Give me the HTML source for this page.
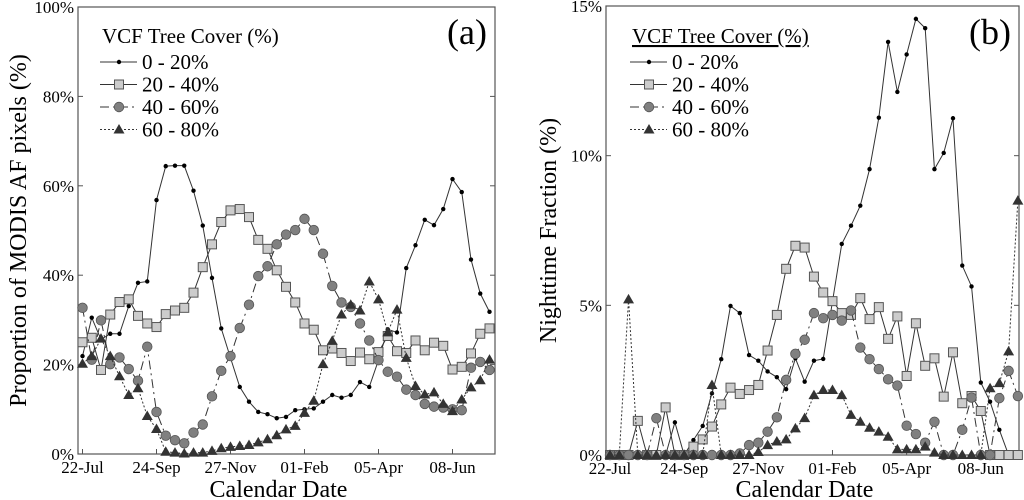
<!DOCTYPE html>
<html><head><meta charset="utf-8">
<style>
html,body{margin:0;padding:0;background:#fff;}
svg{display:block;font-family:"Liberation Serif","Times New Roman",serif;}
svg text{font-family:"Liberation Serif","Times New Roman",serif;}
</style></head>
<body>
<svg id="chart" width="1024" height="500" viewBox="0 0 1024 500" xmlns="http://www.w3.org/2000/svg"></svg>
<script>
const dateLabels = ["22-Jul","24-Sep","27-Nov","01-Feb","05-Apr","08-Jun"];
const seriesNames = ["0 - 20%","20 - 40%","40 - 60%","60 - 80%"];
const yTicksA = [0,20,40,60,80,100];
const yTicksB = [0,5,10,15];
// Panel (a): proportion of MODIS AF pixels (%)
const a020 = [21.9,30.5,25.6,26.9,26.9,33.1,38.3,38.6,56.8,64.4,64.5,64.5,58.9,51.1,39.4,28.1,21.5,15.0,11.7,9.4,8.9,8.0,8.3,9.8,10.0,10.2,11.7,13.2,12.6,13.2,16.1,15.0,21.0,27.9,27.2,41.6,46.7,52.4,51.2,54.8,61.5,58.6,43.5,35.9,31.8];
const a2040 = [25.0,26.0,18.8,31.2,34.0,34.6,30.9,29.2,28.4,31.3,32.1,32.7,36.1,41.8,46.9,51.9,54.5,54.8,53.0,47.9,45.9,41.1,37.4,33.9,29.2,27.8,23.2,23.6,22.6,20.8,22.7,21.2,22.8,26.4,23.0,22.6,25.4,23.2,24.9,24.2,18.9,19.5,22.5,26.9,28.1];
const a4060 = [32.7,21.1,29.9,20.1,21.6,19.0,16.4,24.0,9.4,4.1,3.1,2.4,4.8,6.6,12.9,18.6,21.9,28.2,33.4,39.8,42.0,46.9,49.1,50.1,52.6,50.1,44.8,37.6,33.9,32.9,29.2,25.4,21.0,18.4,17.3,14.4,13.2,11.2,10.6,10.4,10.0,9.8,19.3,20.6,18.8];
const a6080 = [20.2,21.9,25.8,21.9,17.4,13.2,14.7,8.5,5.6,0.5,0.3,0.1,0.3,0.3,0.7,1.3,1.6,1.8,2.0,2.6,3.3,4.2,5.5,6.3,9.2,11.9,20.1,25.3,31.2,33.4,32.1,38.6,34.6,27.2,32.3,21.5,15.2,13.3,13.8,11.2,9.6,12.2,14.9,16.5,21.1];
// Panel (b): nighttime fraction (%)
const b020 = [0,0,0,0,0,0,0,1.09,0,0.5,0.97,2.06,3.2,4.98,4.74,3.34,3.15,2.79,2.6,2.2,3.23,2.45,3.15,3.21,5.13,7.05,7.66,8.33,9.55,11.27,13.8,12.13,13.38,14.57,14.26,9.55,10.09,11.25,6.33,5.63,2.42,1.78,0.84,0,0];
const b2040 = [0,0,0,1.14,0,0,1.59,0,0,0.28,0.52,0.95,1.69,2.25,2.04,2.17,2.34,3.49,4.68,6.22,6.99,6.93,5.96,5.43,5.14,4.74,4.68,5.24,4.54,4.94,3.88,4.63,2.64,4.4,2.98,3.23,1.95,3.43,1.73,1.97,1.47,0,0,0,0];
const b4060 = [0,0,0,0,0,1.23,0,0,0,0,0,0,0,0,0.05,0.33,0.41,0.78,1.26,2.51,3.38,3.85,4.74,4.57,4.68,4.49,4.83,3.59,3.2,2.87,2.53,2.32,0.98,0.7,0.41,1.11,0,0,0.84,1.92,0,0,1.9,2.81,1.97];
const b6080 = [0,0,5.2,0,0,0,0,0,0,0,0,2.34,0,0,0,0,0.1,0.33,0.45,0.52,0.89,1.23,2.0,2.17,2.17,2.0,1.34,1.11,0.91,0.78,0.61,0.19,0.19,0.19,0.28,0.08,0,0,0,0,0,2.23,2.4,3.46,8.5];

const NS="http://www.w3.org/2000/svg";
const svg=document.getElementById('chart');
function mk(tag,attrs,parent){const e=document.createElementNS(NS,tag);for(const k in attrs)e.setAttribute(k,attrs[k]);if(tag==='text'){e.style.fontFamily='"Liberation Serif", serif';}(parent||svg).appendChild(e);return e;}
const styles=[
 {dash:"",marker:"dot",fill:"#000"},
 {dash:"",marker:"square",fill:"#ccc"},
 {dash:"9,4,2,4",marker:"circle",fill:"#808080"},
 {dash:"2,2",marker:"tri",fill:"#333"}
];
function marker(g,type,x,y,fill){
  let m;
  if(type==="dot") m=mk('circle',{cx:x,cy:y,r:2.2,fill:"#000"},g);
  else if(type==="square") m=mk('rect',{x:x-4.5,y:y-4.5,width:9,height:9,fill:fill,stroke:"#555","stroke-width":1},g);
  else if(type==="circle") m=mk('circle',{cx:x,cy:y,r:4.8,fill:fill,stroke:"#555","stroke-width":0.8},g);
  else m=mk('polygon',{points:`${x},${y-5.5} ${x-5.5},${y+4} ${x+5.5},${y+4}`,fill:fill},g);
  return m;
}
function panel(cfg){
  const g=mk('g',{});
  
  
  const {L,R,T,B,x0,dx,ymax}=cfg;
  const xs=i=>x0+i*dx;
  const ys=v=>B-(v/ymax)*(B-T);
  const fr=mk('rect',{x:L,y:T,width:R-L,height:B-T,fill:"none",stroke:"#555","stroke-width":1.2},g);
  
  
  cfg.yticks.forEach(v=>{
    const y=ys(v);
    mk('line',{x1:L,y1:y,x2:L+5,y2:y,stroke:"#555"},g);
    mk('line',{x1:R,y1:y,x2:R-5,y2:y,stroke:"#555"},g);
    const t=mk('text',{x:L-4,y:y+6,"font-size":17,"text-anchor":"end",fill:"#000"},g);
    t.textContent=v+"%";
    
    
  });
  dateLabels.forEach((lab,k)=>{
    const x=xs(k*8);
    mk('line',{x1:x,y1:B,x2:x,y2:B-5,stroke:"#555"},g);
    const t=mk('text',{x:x,y:B+19,"font-size":17,"text-anchor":"middle",fill:"#000"},g);
    t.textContent=lab;
    
    
  });
  const xt=mk('text',{x:(L+R)/2-8,y:497,"font-size":24,"text-anchor":"middle"},g);
  xt.textContent="Calendar Date";
  
  
  const yt=mk('text',{x:0,y:0,"font-size":24,"text-anchor":"middle",transform:`translate(${cfg.ytx},${(T+B)/2}) rotate(-90)`},g);
  yt.textContent=cfg.ytitle;
  
  
  const pl=mk('text',{x:R-8,y:44,"font-size":36,"text-anchor":"end"},g);
  pl.textContent=cfg.label;
  
  
  cfg.series.forEach((data,si)=>{
    const st=styles[si];
    const sg=mk('g',{},g);
    
    
    const pts=data.map((v,i)=>xs(i)+","+ys(v)).join(" ");
    const ln=mk('polyline',{points:pts,fill:"none",stroke:"#333","stroke-width":1,"stroke-dasharray":st.dash},sg);
    
    
    data.forEach((v,i)=>{
      const m=marker(sg,st.marker,xs(i),ys(v),st.fill);
      
      
    });
  });
  const lg=mk('g',{},g);
  
  
  const lt=mk('text',{x:cfg.lx+2,y:43,"font-size":21,"text-decoration":cfg.underline?"underline":"none"},lg);
  lt.textContent="VCF Tree Cover (%)";
  
  
  seriesNames.forEach((n,si)=>{
    const y=62+si*22.5;
    const st=styles[si];
    const e=mk('g',{},lg);
    
    
    mk('line',{x1:cfg.lx,y1:y,x2:cfg.lx+37,y2:y,stroke:"#333","stroke-dasharray":st.dash},e);
    marker(e,st.marker,cfg.lx+19,y,st.fill);
    const t=mk('text',{x:cfg.lx+42,y:y+7,"font-size":21},e);
    t.textContent=n;
  });
}
panel({name:'panel-a',L:78,R:495,T:7,B:454,x0:82.5,dx:9.25,ymax:100,yticks:yTicksA,
  series:[a020,a2040,a4060,a6080],ytx:26,ytitle:"Proportion of MODIS AF pixels (%)",label:"(a)",lx:100,underline:false});
panel({name:'panel-b',L:606,R:1019,T:6,B:455,x0:610,dx:9.27,ymax:15,yticks:yTicksB,
  series:[b020,b2040,b4060,b6080],ytx:556,ytitle:"Nighttime Fraction (%)",label:"(b)",lx:630,underline:true});
</script>
</body></html>
